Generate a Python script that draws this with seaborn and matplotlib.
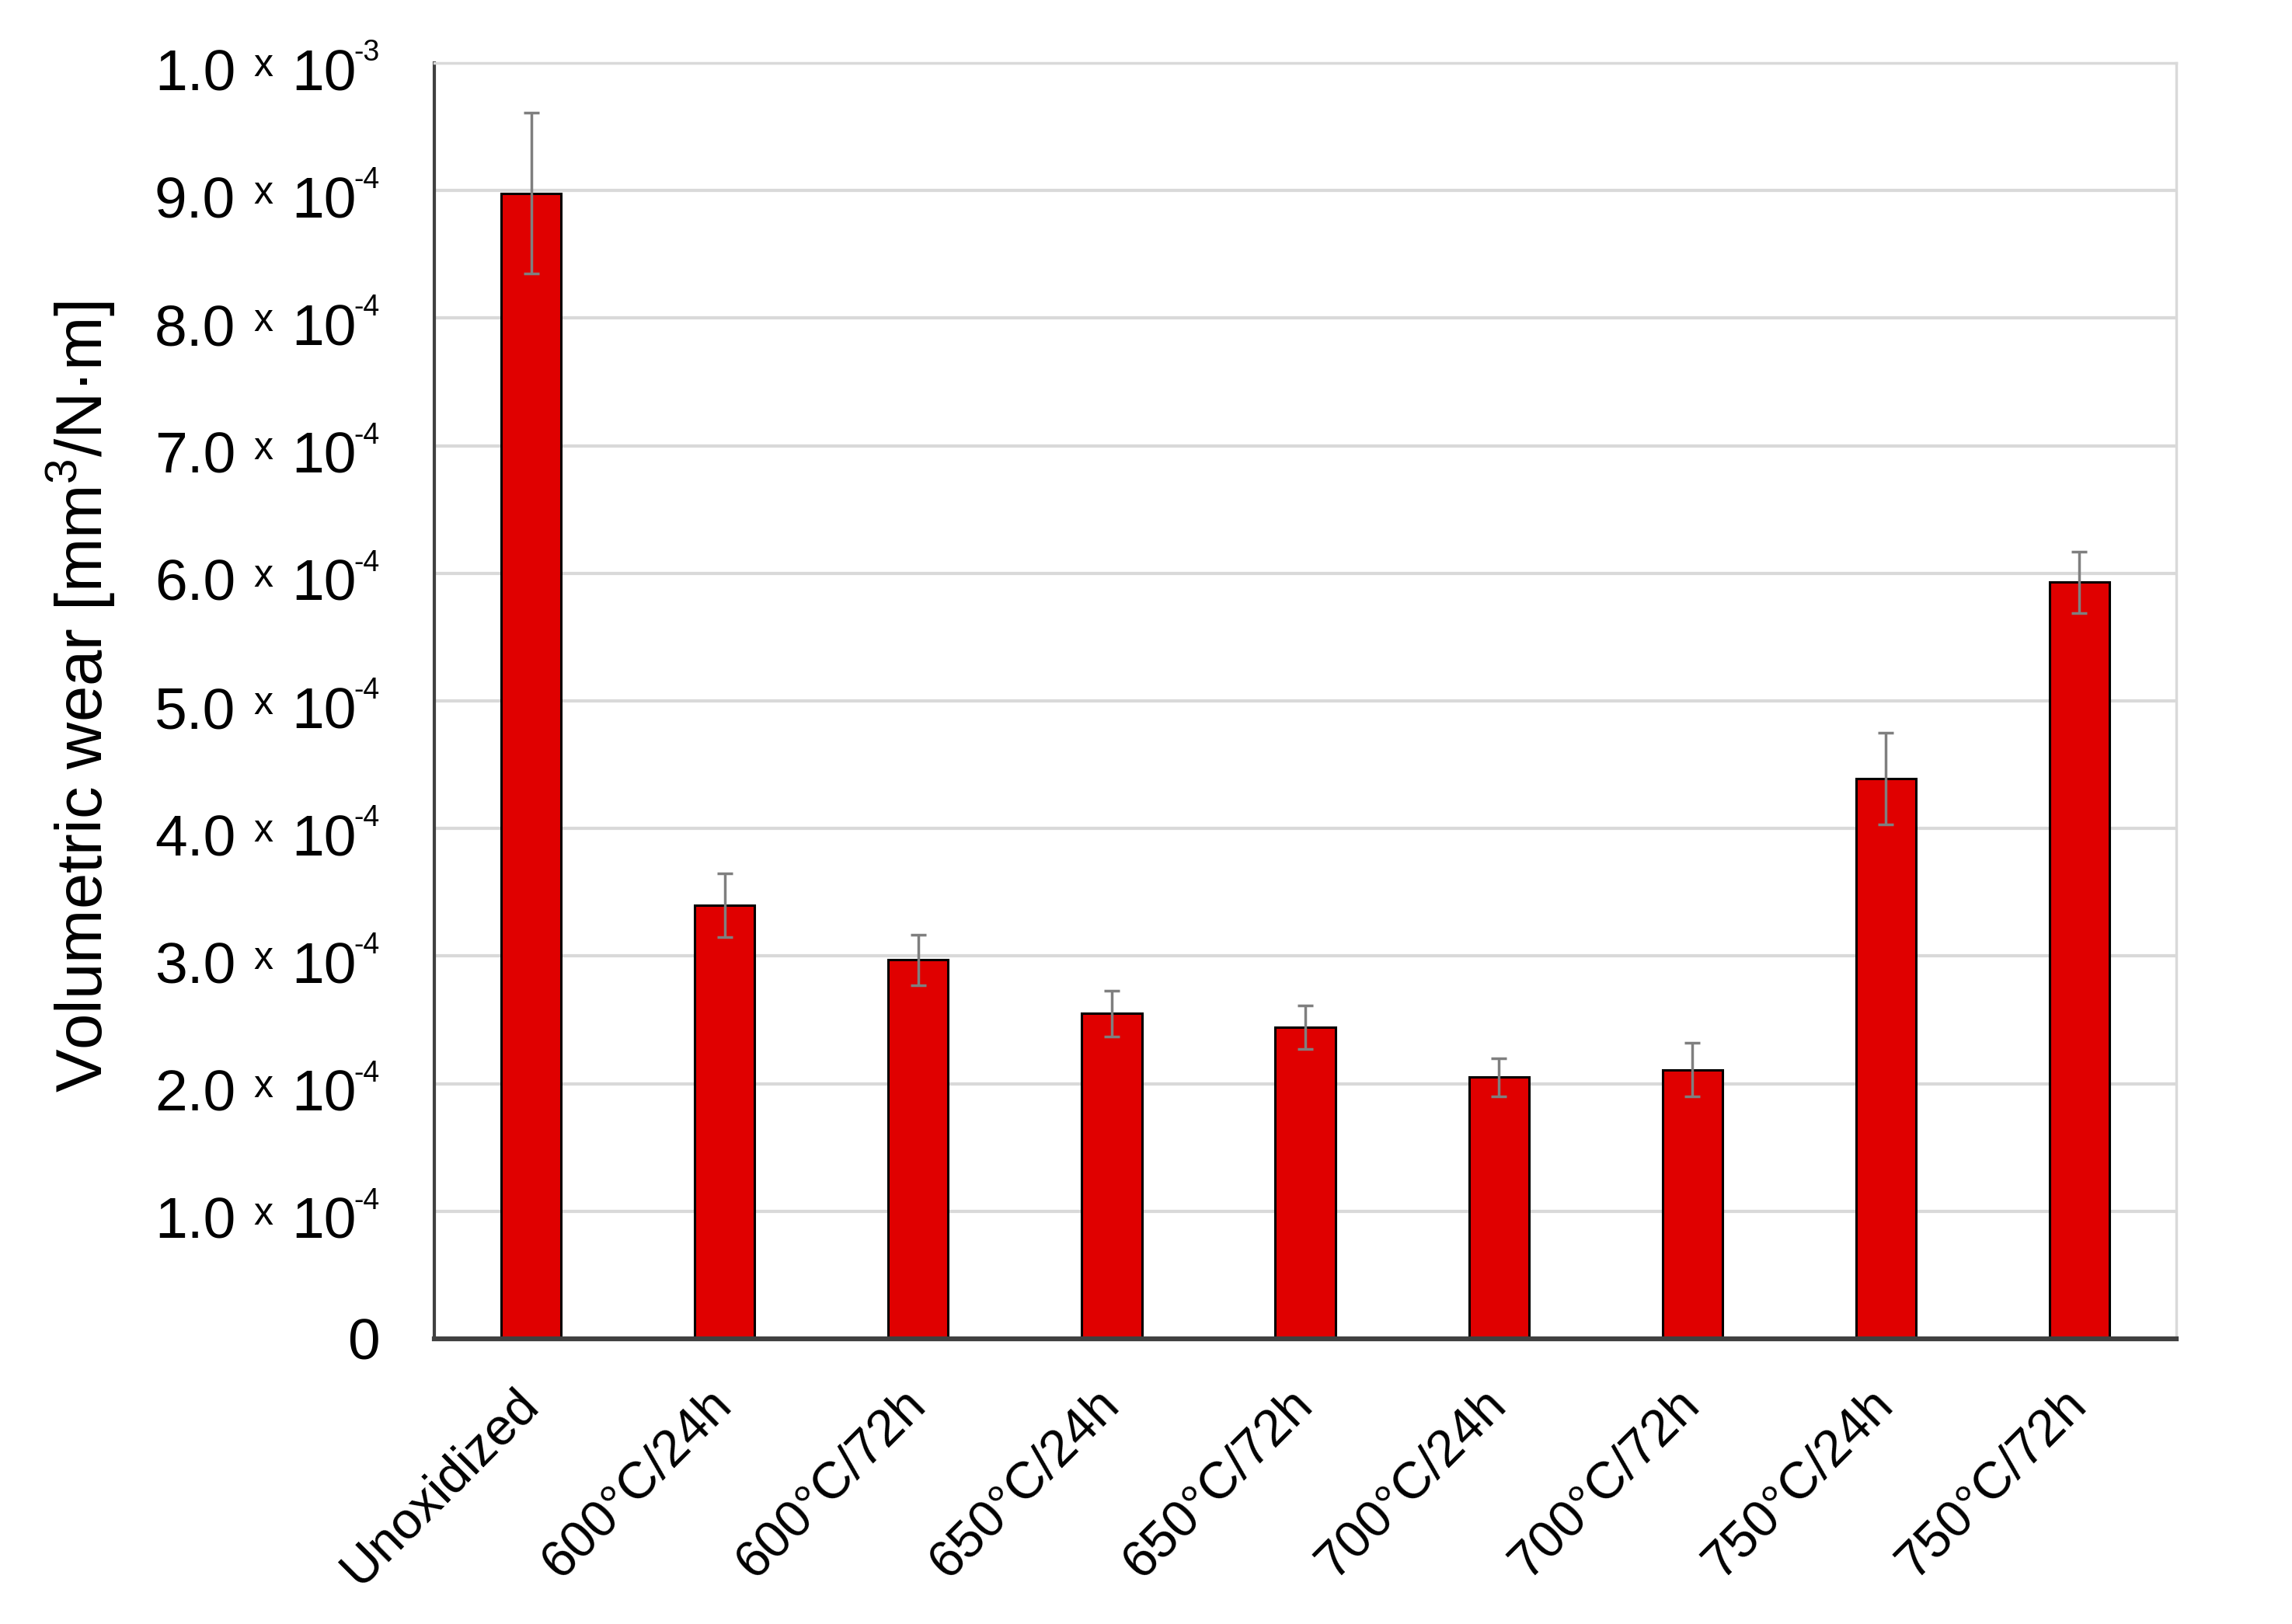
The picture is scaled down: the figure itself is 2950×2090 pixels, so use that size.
import matplotlib
matplotlib.use("Agg")
import matplotlib.pyplot as plt
import matplotlib.transforms as mtransforms
import seaborn as sns
import pandas as pd

categories = ["Unoxidized", "600°C/24h", "600°C/72h", "650°C/24h", "650°C/72h",
              "700°C/24h", "700°C/72h", "750°C/24h", "750°C/72h"]
wear = [8.98e-4, 3.40e-4, 2.97e-4, 2.55e-4, 2.44e-4, 2.05e-4, 2.11e-4, 4.39e-4, 5.93e-4]
wear_err = [0.63e-4, 0.25e-4, 0.20e-4, 0.18e-4, 0.17e-4, 0.15e-4, 0.21e-4, 0.36e-4, 0.24e-4]
ytick_values = [0, 1e-4, 2e-4, 3e-4, 4e-4, 5e-4, 6e-4, 7e-4, 8e-4, 9e-4, 1e-3]
ytick_mantissa = ["0", "1.0", "2.0", "3.0", "4.0", "5.0", "6.0", "7.0", "8.0", "9.0", "1.0"]
ytick_exponent = ["", "-4", "-4", "-4", "-4", "-4", "-4", "-4", "-4", "-4", "-3"]

sns.set_theme(style="white")
plt.rcParams["font.family"] = ["Liberation Sans", "DejaVu Sans"]
plt.rcParams["mathtext.fontset"] = "custom"
plt.rcParams["mathtext.rm"] = "Liberation Sans"
for k in ["text.color", "axes.labelcolor", "xtick.color", "ytick.color"]:
    plt.rcParams[k] = "black"

df = pd.DataFrame({"cat": categories, "wear": wear})

DPI = 100
fig = plt.figure(figsize=(29.5, 20.9), dpi=DPI)
ax = fig.add_axes([0.1895, 0.1756, 0.7600, 0.7856])

sns.barplot(data=df, x="cat", y="wear", color="#E00000", saturation=1,
            width=0.31, edgecolor="black", linewidth=2.2, ax=ax, errorbar=None)

centers = [p.get_x() + p.get_width() / 2 for p in ax.patches]
ax.errorbar(centers, wear, yerr=wear_err, fmt="none", ecolor="#7f7f7f",
            elinewidth=2.5, capsize=7.5, capthick=2.5, zorder=5)

ax.set_xlim(-0.5, len(categories) - 0.5)
ax.set_ylim(0, 1e-3)
ax.set_yticks(ytick_values)
ax.set_yticklabels([""] * len(ytick_values))
ax.tick_params(axis="y", length=0)

# composite y tick labels: "m x 10^e"
trans = ax.get_yaxis_transform()
for v, m, e in zip(ytick_values, ytick_mantissa, ytick_exponent):
    if e == "":
        ax.annotate(m, xy=(0, v), xycoords=trans, xytext=(-70, -27),
                    textcoords="offset pixels", ha="right", va="baseline", fontsize=54)
        continue
    ax.annotate(m, xy=(0, v), xycoords=trans, xytext=(-256, -35),
                textcoords="offset pixels", ha="right", va="baseline", fontsize=54)
    ax.annotate("x", xy=(0, v), xycoords=trans, xytext=(-220, -17),
                textcoords="offset pixels", ha="center", va="baseline", fontsize=36)
    ax.annotate("10", xy=(0, v), xycoords=trans, xytext=(-184, -35),
                textcoords="offset pixels", ha="left", va="baseline", fontsize=54)
    ax.annotate(e, xy=(0, v), xycoords=trans, xytext=(-70, 3),
                textcoords="offset pixels", ha="right", va="baseline", fontsize=27)

ax.tick_params(axis="x", length=0, pad=38)
ax.set_xticks(range(len(categories)))
ax.set_xticklabels(categories, rotation=45, ha="right", rotation_mode="anchor", fontsize=48)
shift = mtransforms.ScaledTranslation(-22 / DPI, 0, fig.dpi_scale_trans)
for lab in ax.get_xticklabels():
    lab.set_transform(lab.get_transform() + shift)

ax.grid(axis="y", color="#d9d9d9", linewidth=3)
ax.set_axisbelow(True)
for s in ["top", "right"]:
    ax.spines[s].set_color("#d9d9d9")
    ax.spines[s].set_linewidth(2.5)
ax.spines["left"].set_color("#404040")
ax.spines["left"].set_linewidth(3)
ax.spines["bottom"].set_color("#404040")
ax.spines["bottom"].set_linewidth(4.5)

ax.set_xlabel("")
ax.set_ylabel("Volumetric wear [mm$^{\\mathregular{3}}$/N·m]", fontsize=60)
ax.yaxis.set_label_coords(-0.182, 0.503)

fig.savefig("out.png", dpi=DPI, facecolor="white")
